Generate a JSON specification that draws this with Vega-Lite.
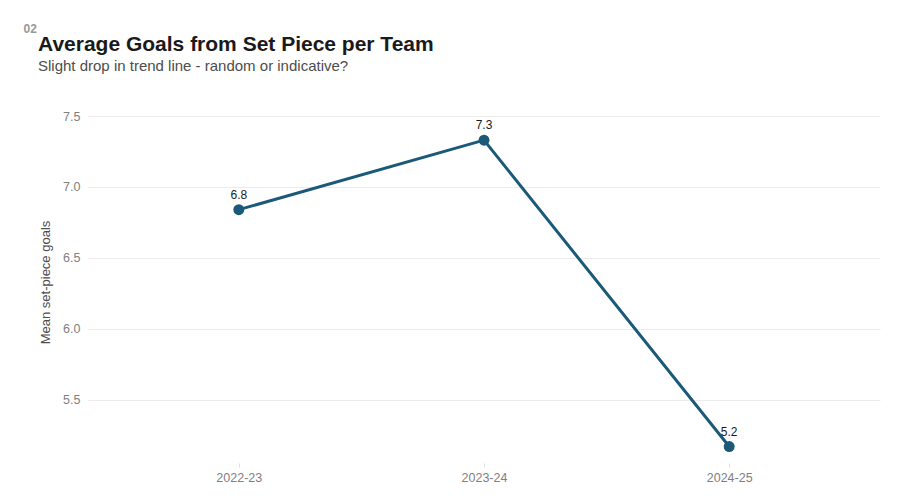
{
  "$schema": "https://vega.github.io/schema/vega-lite/v6.json",
  "width": 792,
  "height": 362,
  "autosize": {"type": "none"},
  "padding": {"left": 88, "top": 101, "right": 24, "bottom": 39},
  "background": "white",
  "title": {
    "text": "Average Goals from Set Piece per Team",
    "subtitle": "Slight drop in trend line - random or indicative?",
    "anchor": "start",
    "frame": "group",
    "dx": -50,
    "offset": -52,
    "font": "Liberation Sans",
    "fontSize": 21,
    "fontWeight": "bold",
    "color": "#1a1a1a",
    "subtitleFont": "Liberation Sans",
    "subtitleFontSize": 15,
    "subtitleColor": "#4d4d4d",
    "subtitlePadding": 4
  },
  "data": {
    "values": [
      {"season": "2022-23", "goals": 6.84},
      {"season": "2023-24", "goals": 7.33},
      {"season": "2024-25", "goals": 5.17}
    ]
  },
  "encoding": {
    "x": {
      "field": "season",
      "type": "ordinal",
      "scale": {"type": "point", "padding": 0.615},
      "axis": {
        "title": "02",
        "titleX": -65,
        "titleY": -431,
        "titleAlign": "left",
        "titleBaseline": "alphabetic",
        "titleFont": "Liberation Sans",
        "titleFontSize": 12,
        "titleFontWeight": "bold",
        "titleColor": "#999999",
        "labelAngle": 0,
        "labelFont": "Liberation Sans",
        "labelFontSize": 12.5,
        "labelColor": "#808080",
        "labelPadding": 4,
        "domain": false,
        "grid": false,
        "ticks": true,
        "tickSize": 4,
        "tickColor": "#e0e0e0"
      }
    },
    "y": {
      "field": "goals",
      "type": "quantitative",
      "scale": {"domain": [5.054, 7.606], "nice": false, "zero": false},
      "axis": {
        "values": [5.5, 6.0, 6.5, 7.0, 7.5],
        "format": ".1f",
        "title": "Mean set-piece goals",
        "titleFont": "Liberation Sans",
        "titleFontSize": 13,
        "titleFontWeight": "normal",
        "titleColor": "#4d4d4d",
        "titlePadding": 10,
        "labelFont": "Liberation Sans",
        "labelFontSize": 12.5,
        "labelColor": "#808080",
        "labelPadding": 8,
        "domain": false,
        "ticks": false,
        "grid": true,
        "gridColor": "#ebebeb",
        "gridWidth": 1
      }
    }
  },
  "layer": [
    {"mark": {"type": "line", "color": "#1a5a78", "strokeWidth": 3}},
    {"mark": {"type": "circle", "color": "#1a5a78", "opacity": 1, "size": 120}},
    {
      "mark": {"type": "text", "dy": -11, "baseline": "alphabetic", "font": "Liberation Sans", "fontSize": 12, "color": "#1a1a1a"},
      "encoding": {"text": {"field": "goals", "type": "quantitative", "format": ".1f"}}
    }
  ],
  "config": {"view": {"stroke": null}}
}
